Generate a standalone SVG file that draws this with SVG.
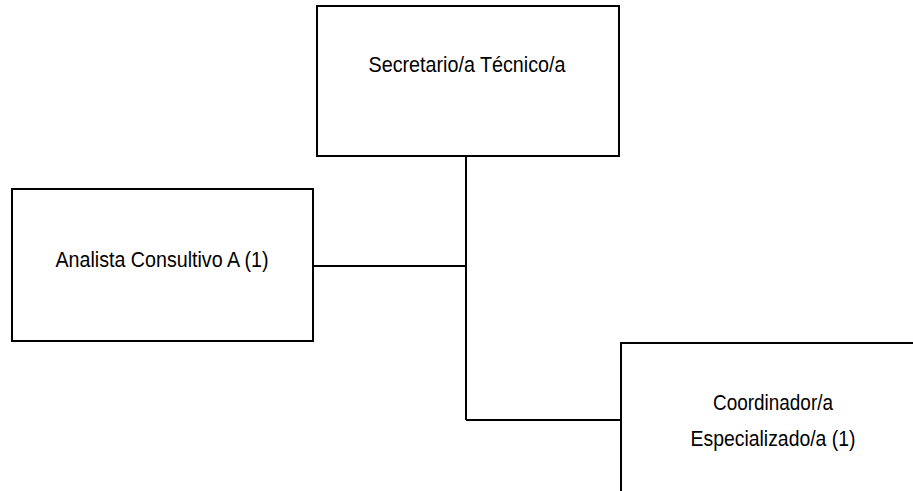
<svg xmlns="http://www.w3.org/2000/svg" width="913" height="491" viewBox="0 0 913 491">
<style>
.box{fill:#fff;stroke:#000;stroke-width:2}
.conn{fill:none;stroke:#000;stroke-width:2}
.lbl{font-family:"Liberation Sans",Arial,sans-serif;font-size:22px;fill:#000;text-anchor:middle}
</style>
<rect width="913" height="491" fill="#fff"/>
<g id="connectors">
<path class="conn" d="M466,156 V420"/>
<path class="conn" d="M313,266 H466"/>
<path class="conn" d="M466,420 H621"/>
</g>
<g id="node-secretario">
<rect class="box" x="317" y="6" width="302" height="150"/>
<text class="lbl" x="467" y="72" textLength="197" lengthAdjust="spacingAndGlyphs">Secretario/a Técnico/a</text>
</g>
<g id="node-analista">
<rect class="box" x="12" y="189" width="301" height="152"/>
<text class="lbl" x="162" y="267" textLength="213" lengthAdjust="spacingAndGlyphs">Analista Consultivo A (1)</text>
</g>
<g id="node-coordinador">
<rect class="box" x="621" y="343" width="300" height="160"/>
<text class="lbl" x="773" y="410" textLength="120" lengthAdjust="spacingAndGlyphs">Coordinador/a</text>
<text class="lbl" x="773" y="446" textLength="165" lengthAdjust="spacingAndGlyphs">Especializado/a (1)</text>
</g>
</svg>
